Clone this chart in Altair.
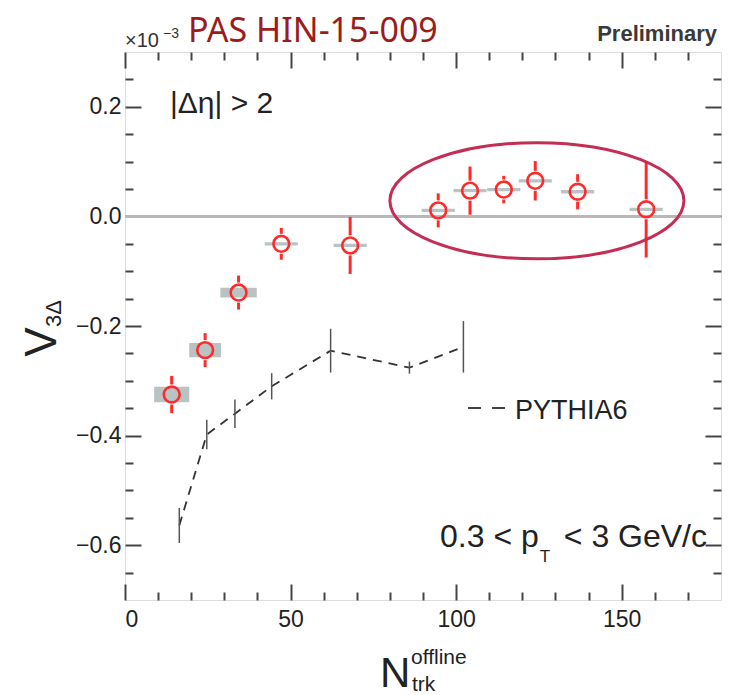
import altair as alt
import pandas as pd

# ---- CMS data (red open circles) ----
n_trk = [14.1, 24.2, 34.3, 47.2, 68.0, 94.6, 104.2, 114.4, 123.9, 136.7, 157.4]
v3d = [-0.325, -0.244, -0.139, -0.050, -0.053, 0.011, 0.047, 0.049, 0.065, 0.045, 0.013]
v3d_err = [0.034, 0.031, 0.031, 0.029, 0.052, 0.031, 0.044, 0.025, 0.036, 0.032, 0.088]
sys_dx = [5.3, 4.8, 5.5, 5.0, 5.0, 5.0, 5.0, 5.0, 5.0, 5.0, 5.0]
sys_dy = [0.014, 0.013, 0.009, 0.003, 0.003, 0.003, 0.003, 0.003, 0.003, 0.003, 0.003]

# ---- PYTHIA6 ----
pythia_n = [16.4, 24.7, 33.2, 44.3, 62.1, 85.9, 102.2]
pythia_v = [-0.564, -0.398, -0.360, -0.310, -0.245, -0.276, -0.238]
pythia_err = [0.032, 0.027, 0.026, 0.024, 0.040, 0.011, 0.047]

# ---- axes ----
x_domain = [0, 180]
y_domain = [-0.7, 0.3]
x_major = [0, 50, 100, 150]
x_minor = [10, 20, 30, 40, 60, 70, 80, 90, 110, 120, 130, 140, 160, 170]
y_major = [-0.6, -0.4, -0.2, 0.0, 0.2]
y_minor = [-0.65, -0.55, -0.5, -0.45, -0.35, -0.3, -0.25, -0.15, -0.1, -0.05,
           0.05, 0.1, 0.15, 0.25]

# ellipse annotation (data coords of centre)
ell_x = [124.4]
ell_y = [0.0285]

FONT = "Liberation Sans"
INK = "#222222"
FRAME = "#444444"
RED = "#ff2b2b"

df = pd.DataFrame({"x": n_trk, "y": v3d, "e": v3d_err, "dx": sys_dx, "dy": sys_dy})
df["lo"] = df.y - df.e
df["hi"] = df.y + df.e
df["bx1"] = df.x - df.dx
df["bx2"] = df.x + df.dx
df["by1"] = df.y - df.dy
df["by2"] = df.y + df.dy

dp = pd.DataFrame({"x": pythia_n, "y": pythia_v, "e": pythia_err})
dp["lo"] = dp.y - dp.e
dp["hi"] = dp.y + dp.e

xs = alt.Scale(domain=x_domain, nice=False, zero=False)
ys = alt.Scale(domain=y_domain, nice=False, zero=False)


def tick_axis(orient, values, length):
    return alt.Axis(orient=orient, values=values, offset=-length, tickSize=length,
                    tickWidth=2, tickColor=FRAME, labels=False, domain=False,
                    grid=False, title=None)


def axis_layer(xaxis, yaxis):
    return alt.Chart(df).mark_point(opacity=0).encode(
        x=alt.X("x:Q", scale=xs, axis=xaxis),
        y=alt.Y("y:Q", scale=ys, axis=yaxis),
    )


ax_layers = [
    axis_layer(tick_axis("bottom", x_major, 16), tick_axis("left", y_major, 16)),
    axis_layer(tick_axis("bottom", x_minor, 8), tick_axis("left", y_minor, 8)),
    axis_layer(tick_axis("top", x_major, 16), tick_axis("right", y_major, 16)),
    axis_layer(tick_axis("top", x_minor, 8), tick_axis("right", y_minor, 8)),
]

x_lab_axis = alt.Axis(orient="bottom", values=x_major, ticks=False, tickSize=0, domain=False,
                      grid=False, title=None, labelPadding=8, labelFontSize=23,
                      labelFont=FONT, labelColor=INK, format="d")
y_lab_axis = alt.Axis(orient="left", values=y_major, ticks=False, tickSize=0, domain=False,
                      grid=False, title=None, labelPadding=4, labelFontSize=23,
                      labelFont=FONT, labelColor=INK, format=".1f")

zero_line = alt.Chart(df).mark_rule(color="#b8b8b8", strokeWidth=3).encode(
    y=alt.Y("zero:Q", scale=ys, axis=None)
).transform_calculate(zero="0").transform_filter("datum.x < 20")

boxes = alt.Chart(df).mark_rect(color="#bac3c3").encode(
    x=alt.X("bx1:Q", scale=xs, axis=None), x2="bx2:Q",
    y=alt.Y("by1:Q", scale=ys, axis=None), y2="by2:Q",
)

err_up = alt.Chart(df).mark_rule(color=RED, strokeWidth=3, y2Offset=-10).encode(
    x=alt.X("x:Q", scale=xs, axis=None),
    y=alt.Y("hi:Q", scale=ys, axis=None), y2="y:Q",
)
err_dn = alt.Chart(df).mark_rule(color=RED, strokeWidth=3, y2Offset=10).encode(
    x=alt.X("x:Q", scale=xs, axis=None),
    y=alt.Y("lo:Q", scale=ys, axis=None), y2="y:Q",
)
circles = alt.Chart(df).mark_point(shape="circle", size=250, filled=False,
                                   stroke=RED, strokeWidth=2.6, opacity=1).encode(
    x=alt.X("x:Q", scale=xs, axis=x_lab_axis),
    y=alt.Y("y:Q", scale=ys, axis=y_lab_axis),
)

py_line = alt.Chart(dp).mark_line(color="#333333", strokeWidth=1.8, strokeDash=[9, 7]).encode(
    x=alt.X("x:Q", scale=xs, axis=None),
    y=alt.Y("y:Q", scale=ys, axis=None),
)
py_err = alt.Chart(dp).mark_rule(color="#555555", strokeWidth=1.5).encode(
    x=alt.X("x:Q", scale=xs, axis=None),
    y=alt.Y("lo:Q", scale=ys, axis=None), y2="hi:Q",
)

ellipse = alt.Chart(pd.DataFrame({"x": ell_x, "y": ell_y})).mark_point(
    shape="M -1 0 A 1 0.395 0 1 1 1 0 A 1 0.395 0 1 1 -1 0 Z",
    size=86436, filled=False, stroke="#c42e55", strokeWidth=3, opacity=1,
).encode(
    x=alt.X("x:Q", scale=xs, axis=None),
    y=alt.Y("y:Q", scale=ys, axis=None),
)

legend_dash = alt.Chart(df).mark_rule(color="#444444", strokeWidth=1.8,
                                      strokeDash=[13, 11]).encode(
    x=alt.value(343), x2=alt.value(382), y=alt.value(356)
).transform_filter("datum.x < 20")


def txt(s, x, y, size, color=INK, font=FONT, align="left", baseline="alphabetic",
        angle=0, weight="normal"):
    return alt.Chart(df).mark_text(
        text=s, fontSize=size, color=color, font=font, align=align,
        baseline=baseline, angle=angle, fontWeight=weight,
    ).encode(x=alt.value(x), y=alt.value(y)).transform_filter("datum.x < 20")


texts = [
    txt("×10", 0, -5, 20, color="#333333"),
    txt("−3", 38, -14, 14, color="#333333"),
    txt("PAS HIN-15-009", 63, -10, 34, color="#9c1c1c", font="Noto Sans"),
    txt("Preliminary", 592, -11, 22, color="#3a3a3a", align="right", weight="bold"),
    txt("|Δη| > 2", 45, 61, 30),
    txt("PYTHIA6", 390, 367, 27),
    txt("0.3 < p", 315, 495, 32),
    txt("T", 420, 510, 17, align="center"),
    txt("< 3 GeV/c", 582, 495, 32, align="right"),
    txt("V", -69, 290, 44, angle=270, align="center"),
    txt("3Δ", -64, 275, 22, angle=270),
    txt("N", 255, 635, 42),
    txt("offline", 286, 612, 21),
    txt("trk", 287, 639, 21),
]

chart = alt.layer(
    *ax_layers, zero_line, boxes, py_line, py_err, err_up, err_dn, circles, ellipse,
    legend_dash, *texts,
).resolve_axis(x="independent", y="independent").properties(
    width=596, height=548,
    autosize=alt.AutoSizeParams(type="none"),
    padding={"left": 125, "top": 52, "right": 9, "bottom": 95},
).configure_view(stroke=FRAME, strokeWidth=2.5).configure(background="white")

chart.save("out.html", embed_options={"renderer": "svg", "actions": False})
